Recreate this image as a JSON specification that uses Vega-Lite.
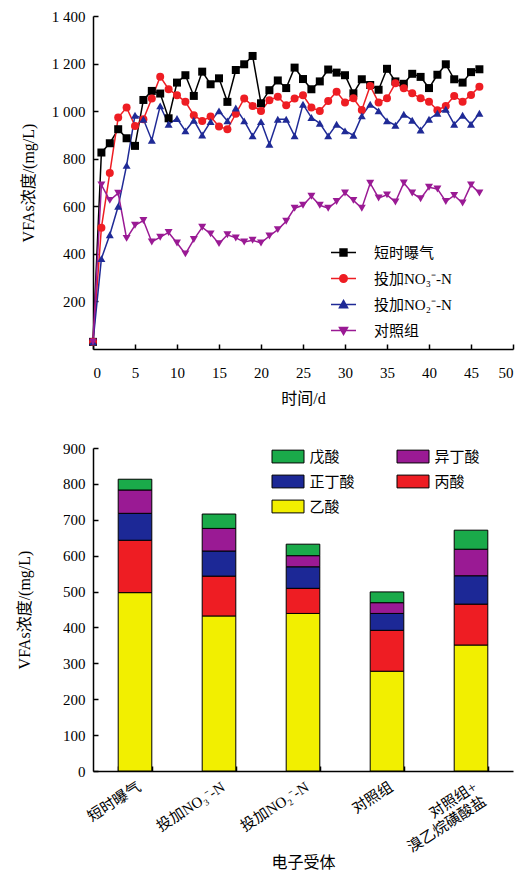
{
  "$schema": "https://vega.github.io/schema/vega-lite/v6.json",
  "background": "white",
  "padding": {"left": 16, "top": 9, "right": 5, "bottom": 5},
  "config": {
    "font": "Liberation Serif, Noto Sans CJK SC",
    "view": {"stroke": null},
    "axis": {
      "domainColor": "black", "domainWidth": 1.5,
      "tickColor": "black", "tickWidth": 1.5, "tickSize": -5,
      "labelFont": "Liberation Serif, Noto Sans CJK SC", "labelFontSize": 15, "labelColor": "black", "labelPadding": 13,
      "titleFont": "Liberation Serif, Noto Sans CJK SC", "titleFontSize": 16, "titleFontWeight": "normal", "titleColor": "black",
      "grid": false
    },
    "legend": {"labelFont": "Liberation Serif, Noto Sans CJK SC", "labelFontSize": 15, "labelColor": "black"},
    "concat": {"spacing": 35}
  },
  "resolve": {"scale": {"color": "independent", "fill": "independent", "stroke": "independent", "shape": "independent"}},
  "vconcat": [
    {
      "width": 420,
      "height": 333,
      "data": {"values": [
        {"day":0,"series":"短时曝气","v":30},{"day":1,"series":"短时曝气","v":826},{"day":2,"series":"短时曝气","v":865},{"day":3,"series":"短时曝气","v":924},{"day":4,"series":"短时曝气","v":886},{"day":5,"series":"短时曝气","v":854},{"day":6,"series":"短时曝气","v":1047},{"day":7,"series":"短时曝气","v":1085},{"day":8,"series":"短时曝气","v":1074},{"day":9,"series":"短时曝气","v":970},{"day":10,"series":"短时曝气","v":1120},{"day":11,"series":"短时曝气","v":1151},{"day":12,"series":"短时曝气","v":1064},{"day":13,"series":"短时曝气","v":1166},{"day":14,"series":"短时曝气","v":1113},{"day":15,"series":"短时曝气","v":1138},{"day":16,"series":"短时曝气","v":1039},{"day":17,"series":"短时曝气","v":1173},{"day":18,"series":"短时曝气","v":1197},{"day":19,"series":"短时曝气","v":1232},{"day":20,"series":"短时曝气","v":1033},{"day":21,"series":"短时曝气","v":1088},{"day":22,"series":"短时曝气","v":1129},{"day":23,"series":"短时曝气","v":1097},{"day":24,"series":"短时曝气","v":1183},{"day":25,"series":"短时曝气","v":1135},{"day":26,"series":"短时曝气","v":1092},{"day":27,"series":"短时曝气","v":1125},{"day":28,"series":"短时曝气","v":1175},{"day":29,"series":"短时曝气","v":1162},{"day":30,"series":"短时曝气","v":1151},{"day":31,"series":"短时曝气","v":1075},{"day":32,"series":"短时曝气","v":1134},{"day":33,"series":"短时曝气","v":1110},{"day":34,"series":"短时曝气","v":1090},{"day":35,"series":"短时曝气","v":1178},{"day":36,"series":"短时曝气","v":1125},{"day":37,"series":"短时曝气","v":1115},{"day":38,"series":"短时曝气","v":1157},{"day":39,"series":"短时曝气","v":1144},{"day":40,"series":"短时曝气","v":1097},{"day":41,"series":"短时曝气","v":1153},{"day":42,"series":"短时曝气","v":1197},{"day":43,"series":"短时曝气","v":1134},{"day":44,"series":"短时曝气","v":1120},{"day":45,"series":"短时曝气","v":1164},{"day":46,"series":"短时曝气","v":1176},
        {"day":0,"series":"投加NO₃⁻-N","v":30},{"day":1,"series":"投加NO₃⁻-N","v":510},{"day":2,"series":"投加NO₃⁻-N","v":740},{"day":3,"series":"投加NO₃⁻-N","v":973},{"day":4,"series":"投加NO₃⁻-N","v":1015},{"day":5,"series":"投加NO₃⁻-N","v":938},{"day":6,"series":"投加NO₃⁻-N","v":966},{"day":7,"series":"投加NO₃⁻-N","v":1053},{"day":8,"series":"投加NO₃⁻-N","v":1145},{"day":9,"series":"投加NO₃⁻-N","v":1092},{"day":10,"series":"投加NO₃⁻-N","v":1067},{"day":11,"series":"投加NO₃⁻-N","v":1039},{"day":12,"series":"投加NO₃⁻-N","v":983},{"day":13,"series":"投加NO₃⁻-N","v":959},{"day":14,"series":"投加NO₃⁻-N","v":977},{"day":15,"series":"投加NO₃⁻-N","v":935},{"day":16,"series":"投加NO₃⁻-N","v":924},{"day":17,"series":"投加NO₃⁻-N","v":989},{"day":18,"series":"投加NO₃⁻-N","v":1053},{"day":19,"series":"投加NO₃⁻-N","v":1022},{"day":20,"series":"投加NO₃⁻-N","v":1001},{"day":21,"series":"投加NO₃⁻-N","v":1046},{"day":22,"series":"投加NO₃⁻-N","v":1061},{"day":23,"series":"投加NO₃⁻-N","v":1025},{"day":24,"series":"投加NO₃⁻-N","v":1053},{"day":25,"series":"投加NO₃⁻-N","v":1067},{"day":26,"series":"投加NO₃⁻-N","v":1015},{"day":27,"series":"投加NO₃⁻-N","v":1001},{"day":28,"series":"投加NO₃⁻-N","v":1043},{"day":29,"series":"投加NO₃⁻-N","v":1082},{"day":30,"series":"投加NO₃⁻-N","v":1036},{"day":31,"series":"投加NO₃⁻-N","v":1054},{"day":32,"series":"投加NO₃⁻-N","v":1005},{"day":33,"series":"投加NO₃⁻-N","v":1106},{"day":34,"series":"投加NO₃⁻-N","v":1036},{"day":35,"series":"投加NO₃⁻-N","v":1054},{"day":36,"series":"投加NO₃⁻-N","v":1117},{"day":37,"series":"投加NO₃⁻-N","v":1096},{"day":38,"series":"投加NO₃⁻-N","v":1075},{"day":39,"series":"投加NO₃⁻-N","v":1054},{"day":40,"series":"投加NO₃⁻-N","v":1040},{"day":41,"series":"投加NO₃⁻-N","v":1004},{"day":42,"series":"投加NO₃⁻-N","v":1022},{"day":43,"series":"投加NO₃⁻-N","v":1064},{"day":44,"series":"投加NO₃⁻-N","v":1040},{"day":45,"series":"投加NO₃⁻-N","v":1068},{"day":46,"series":"投加NO₃⁻-N","v":1103},
        {"day":0,"series":"投加NO₂⁻-N","v":30},{"day":1,"series":"投加NO₂⁻-N","v":380},{"day":2,"series":"投加NO₂⁻-N","v":480},{"day":3,"series":"投加NO₂⁻-N","v":600},{"day":4,"series":"投加NO₂⁻-N","v":772},{"day":5,"series":"投加NO₂⁻-N","v":983},{"day":6,"series":"投加NO₂⁻-N","v":966},{"day":7,"series":"投加NO₂⁻-N","v":878},{"day":8,"series":"投加NO₂⁻-N","v":1022},{"day":9,"series":"投加NO₂⁻-N","v":945},{"day":10,"series":"投加NO₂⁻-N","v":969},{"day":11,"series":"投加NO₂⁻-N","v":917},{"day":12,"series":"投加NO₂⁻-N","v":962},{"day":13,"series":"投加NO₂⁻-N","v":900},{"day":14,"series":"投加NO₂⁻-N","v":956},{"day":15,"series":"投加NO₂⁻-N","v":1001},{"day":16,"series":"投加NO₂⁻-N","v":959},{"day":17,"series":"投加NO₂⁻-N","v":1013},{"day":18,"series":"投加NO₂⁻-N","v":959},{"day":19,"series":"投加NO₂⁻-N","v":896},{"day":20,"series":"投加NO₂⁻-N","v":956},{"day":21,"series":"投加NO₂⁻-N","v":861},{"day":22,"series":"投加NO₂⁻-N","v":966},{"day":23,"series":"投加NO₂⁻-N","v":966},{"day":24,"series":"投加NO₂⁻-N","v":896},{"day":25,"series":"投加NO₂⁻-N","v":1029},{"day":26,"series":"投加NO₂⁻-N","v":973},{"day":27,"series":"投加NO₂⁻-N","v":949},{"day":28,"series":"投加NO₂⁻-N","v":896},{"day":29,"series":"投加NO₂⁻-N","v":945},{"day":30,"series":"投加NO₂⁻-N","v":917},{"day":31,"series":"投加NO₂⁻-N","v":899},{"day":32,"series":"投加NO₂⁻-N","v":980},{"day":33,"series":"投加NO₂⁻-N","v":1029},{"day":34,"series":"投加NO₂⁻-N","v":1001},{"day":35,"series":"投加NO₂⁻-N","v":959},{"day":36,"series":"投加NO₂⁻-N","v":941},{"day":37,"series":"投加NO₂⁻-N","v":987},{"day":38,"series":"投加NO₂⁻-N","v":962},{"day":39,"series":"投加NO₂⁻-N","v":921},{"day":40,"series":"投加NO₂⁻-N","v":966},{"day":41,"series":"投加NO₂⁻-N","v":991},{"day":42,"series":"投加NO₂⁻-N","v":1008},{"day":43,"series":"投加NO₂⁻-N","v":945},{"day":44,"series":"投加NO₂⁻-N","v":983},{"day":45,"series":"投加NO₂⁻-N","v":945},{"day":46,"series":"投加NO₂⁻-N","v":991},
        {"day":0,"series":"对照组","v":30},{"day":1,"series":"对照组","v":690},{"day":2,"series":"对照组","v":625},{"day":3,"series":"对照组","v":655},{"day":4,"series":"对照组","v":465},{"day":5,"series":"对照组","v":520},{"day":6,"series":"对照组","v":540},{"day":7,"series":"对照组","v":450},{"day":8,"series":"对照组","v":470},{"day":9,"series":"对照组","v":490},{"day":10,"series":"对照组","v":446},{"day":11,"series":"对照组","v":400},{"day":12,"series":"对照组","v":460},{"day":13,"series":"对照组","v":512},{"day":14,"series":"对照组","v":484},{"day":15,"series":"对照组","v":443},{"day":16,"series":"对照组","v":480},{"day":17,"series":"对照组","v":467},{"day":18,"series":"对照组","v":450},{"day":19,"series":"对照组","v":457},{"day":20,"series":"对照组","v":446},{"day":21,"series":"对照组","v":475},{"day":22,"series":"对照组","v":502},{"day":23,"series":"对照组","v":537},{"day":24,"series":"对照组","v":592},{"day":25,"series":"对照组","v":604},{"day":26,"series":"对照组","v":642},{"day":27,"series":"对照组","v":604},{"day":28,"series":"对照组","v":592},{"day":29,"series":"对照组","v":620},{"day":30,"series":"对照组","v":656},{"day":31,"series":"对照组","v":625},{"day":32,"series":"对照组","v":592},{"day":33,"series":"对照组","v":697},{"day":34,"series":"对照组","v":635},{"day":35,"series":"对照组","v":648},{"day":36,"series":"对照组","v":618},{"day":37,"series":"对照组","v":698},{"day":38,"series":"对照组","v":656},{"day":39,"series":"对照组","v":632},{"day":40,"series":"对照组","v":680},{"day":41,"series":"对照组","v":673},{"day":42,"series":"对照组","v":620},{"day":43,"series":"对照组","v":646},{"day":44,"series":"对照组","v":614},{"day":45,"series":"对照组","v":690},{"day":46,"series":"对照组","v":656}
      ]},
      "encoding": {
        "x": {"field": "day", "type": "quantitative", "scale": {"domain": [0, 50]},
              "axis": {"values": [0,5,10,15,20,25,30,35,40,45,50], "title": "时间/d", "titlePadding": 10, "labelPadding": 21}},
        "y": {"field": "v", "type": "quantitative", "scale": {"domain": [0, 1400]},
              "axis": {"values": [200,400,600,800,1000,1200,1400], "title": "VFAs浓度/(mg/L)", "titlePadding": 15,
                       "labelExpr": "replace(format(datum.value, ','), ',', ' ')"}}
      },
      "layer": [
        {
          "mark": {"type": "line", "strokeWidth": 1.5},
          "encoding": {
            "color": {"field": "series", "type": "nominal",
                      "scale": {"domain": ["短时曝气","投加NO₃⁻-N","投加NO₂⁻-N","对照组"], "range": ["#000000","#ee1d23","#1f2a96","#9a1a94"]},
                      "legend": null}
          }
        },
        {
          "mark": {"type": "point", "filled": true, "size": 64, "opacity": 1},
          "encoding": {
            "color": {"field": "series", "type": "nominal",
                      "scale": {"domain": ["短时曝气","投加NO₃⁻-N","投加NO₂⁻-N","对照组"], "range": ["#000000","#ee1d23","#1f2a96","#9a1a94"]},
                      "legend": null},
            "shape": {"field": "series", "type": "nominal",
                      "scale": {"domain": ["短时曝气","投加NO₃⁻-N","投加NO₂⁻-N","对照组"], "range": ["square","circle","triangle-up","triangle-down"]},
                      "legend": null}
          }
        },
        {
          "transform": [{"filter": "datum.day < 0"}],
          "mark": {"type": "point", "filled": true, "opacity": 1, "strokeWidth": 1.5},
          "encoding": {
            "fill": {"field": "series", "type": "nominal",
                     "scale": {"domain": ["短时曝气","投加NO₃⁻-N","投加NO₂⁻-N","对照组"], "range": ["#000000","#ee1d23","#1f2a96","#9a1a94"]},
                     "legend": {"title": null, "orient": "none", "legendX": 243, "legendY": 229, "symbolSize": 156.25, "symbolStrokeWidth": 1.5, "labelOffset": 23, "rowPadding": 10, "padding": 0, "labelFontSize": 15, "labelLimit": 200}},
            "stroke": {"field": "series", "type": "nominal",
                     "scale": {"domain": ["短时曝气","投加NO₃⁻-N","投加NO₂⁻-N","对照组"], "range": ["#000000","#ee1d23","#1f2a96","#9a1a94"]},
                     "legend": {"title": null, "orient": "none", "legendX": 243, "legendY": 229, "symbolSize": 156.25, "symbolStrokeWidth": 1.5, "labelOffset": 23, "rowPadding": 10, "padding": 0, "labelFontSize": 15, "labelLimit": 200}},
            "shape": {"field": "series", "type": "nominal",
                      "scale": {"domain": ["短时曝气","投加NO₃⁻-N","投加NO₂⁻-N","对照组"],
                                "range": ["M-2,0H2M-0.55,-0.55H0.55V0.55H-0.55Z",
                                          "M-2,0H2M0.6,0A0.6,0.6 0 1,1 -0.6,0A0.6,0.6 0 1,1 0.6,0Z",
                                          "M-2,0H2M0,-0.65L0.65,0.5H-0.65Z",
                                          "M-2,0H2M0,0.65L0.65,-0.5H-0.65Z"]},
                      "legend": {"title": null, "orient": "none", "legendX": 243, "legendY": 229, "symbolSize": 156.25, "symbolStrokeWidth": 1.5, "labelOffset": 23, "rowPadding": 10, "padding": 0, "labelFontSize": 15, "labelLimit": 200}}
          }
        }
      ],
      "resolve": {"scale": {"shape": "independent", "fill": "independent", "stroke": "independent"}}
    },
    {
      "width": 420,
      "height": 323,
      "data": {"values": [
        {"group":"短时曝气","acid":"乙酸","v":497},{"group":"短时曝气","acid":"丙酸","v":146},{"group":"短时曝气","acid":"正丁酸","v":75},{"group":"短时曝气","acid":"异丁酸","v":65},{"group":"短时曝气","acid":"戊酸","v":30},
        {"group":"投加NO₃⁻-N","acid":"乙酸","v":432},{"group":"投加NO₃⁻-N","acid":"丙酸","v":111},{"group":"投加NO₃⁻-N","acid":"正丁酸","v":70},{"group":"投加NO₃⁻-N","acid":"异丁酸","v":63},{"group":"投加NO₃⁻-N","acid":"戊酸","v":40},
        {"group":"投加NO₂⁻-N","acid":"乙酸","v":439},{"group":"投加NO₂⁻-N","acid":"丙酸","v":70},{"group":"投加NO₂⁻-N","acid":"正丁酸","v":60},{"group":"投加NO₂⁻-N","acid":"异丁酸","v":31},{"group":"投加NO₂⁻-N","acid":"戊酸","v":32},
        {"group":"对照组","acid":"乙酸","v":278},{"group":"对照组","acid":"丙酸","v":114},{"group":"对照组","acid":"正丁酸","v":47},{"group":"对照组","acid":"异丁酸","v":30},{"group":"对照组","acid":"戊酸","v":30},
        {"group":"对照组+|溴乙烷磺酸盐","acid":"乙酸","v":351},{"group":"对照组+|溴乙烷磺酸盐","acid":"丙酸","v":114},{"group":"对照组+|溴乙烷磺酸盐","acid":"正丁酸","v":79},{"group":"对照组+|溴乙烷磺酸盐","acid":"异丁酸","v":74},{"group":"对照组+|溴乙烷磺酸盐","acid":"戊酸","v":53}
      ]},
      "transform": [{"calculate": "indexof(['乙酸','丙酸','正丁酸','异丁酸','戊酸'], datum.acid)", "as": "ord"}],
      "mark": {"type": "bar", "stroke": "black", "strokeWidth": 1},
      "encoding": {
        "x": {"field": "group", "type": "nominal",
              "sort": ["短时曝气","投加NO₃⁻-N","投加NO₂⁻-N","对照组","对照组+|溴乙烷磺酸盐"],
              "scale": {"paddingInner": 0.6, "paddingOuter": 0.3},
              "axis": {"title": "电子受体", "labelAngle": -33, "tickBand": "extent", "labelExpr": "datum.value ? split(datum.value, '|') : ''", "labelPadding": 13, "titlePadding": 0}},
        "y": {"field": "v", "type": "quantitative", "stack": "zero", "scale": {"domain": [0, 900]},
              "axis": {"values": [0,100,200,300,400,500,600,700,800,900], "title": "VFAs浓度/(mg/L)", "titlePadding": 30}},
        "color": {"field": "acid", "type": "nominal",
                  "scale": {"domain": ["戊酸","异丁酸","正丁酸","丙酸","乙酸"], "range": ["#1aaa4a","#9a1a94","#1c2896","#ee1d23","#f2ef00"]},
                  "legend": {"title": null, "orient": "none", "direction": "horizontal", "legendX": 186.5, "legendY": 0, "columns": 2, "symbolType": "M-2,-0.8H2V0.8H-2Z", "symbolSize": 256, "symbolStrokeColor": "black", "symbolStrokeWidth": 1, "labelOffset": 13, "columnPadding": 39, "rowPadding": 8, "padding": 0, "labelFontSize": 15}},
        "order": {"field": "ord", "type": "quantitative"}
      }
    }
  ]
}
